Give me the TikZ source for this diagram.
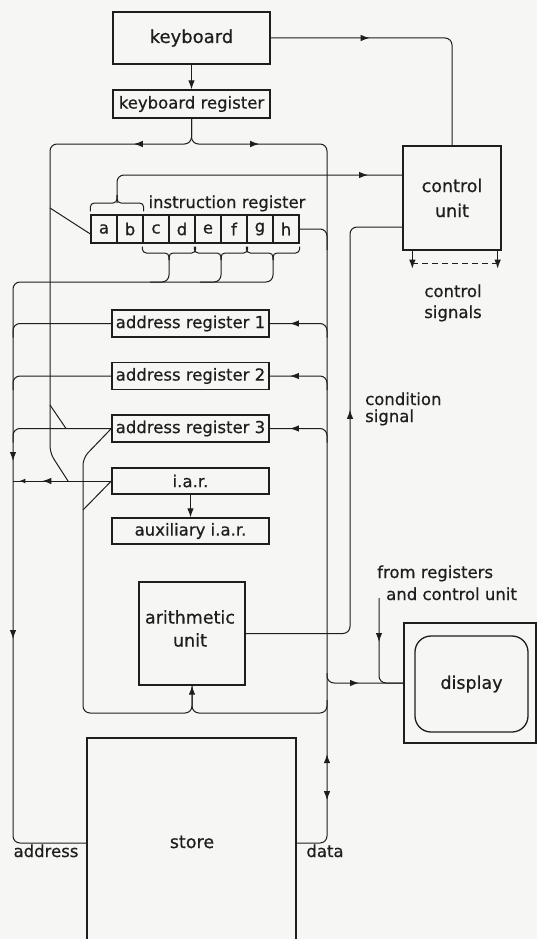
\documentclass[tikz,border=0pt]{standalone}
\usepackage{fontspec}
\setmainfont{DejaVu Sans}[FakeBold=0.6]
\usetikzlibrary{arrows.meta,decorations.markings,calc}
\definecolor{ink}{RGB}{30,30,30}
\definecolor{paper}{RGB}{246,246,244}
\tikzset{
  mytip/.tip={Latex[length=9pt,width=6.5pt]},
  smalltip/.tip={Latex[length=6pt,width=5pt]},
  ln/.style={draw=ink,line width=1pt},
  rc/.style={rounded corners=7pt},
  box/.style={draw=ink,line width=1.3pt,inner sep=0pt,font=\fontsize{16.5}{20}\selectfont,text=ink},
  cell/.style={box,minimum width=26pt,minimum height=28pt},
  lbl/.style={inner sep=0pt,font=\fontsize{16.5}{20}\selectfont,text=ink},
  arr/.style={decoration={markings,mark=at position #1 with {\arrow{mytip}}},postaction={decorate}},
}
\begin{document}
\begin{tikzpicture}[x=1pt,y=-1pt]
\fill[paper] (0,0) rectangle (537,939);
\useasboundingbox (0,0) rectangle (537,939);

% boxes
\node[box,minimum width=157pt,minimum height=52pt,font=\fontsize{18}{20}\selectfont] (kb) at (191.5,38) {keyboard};
\node[box,minimum width=157pt,minimum height=28pt] (kbr) at (191.5,104) {keyboard register};
\node[box,minimum width=98pt,minimum height=104pt,align=center,font=\fontsize{17.5}{25}\selectfont] (cu) at (452,198) {control\\unit};
\foreach \n/\t [count=\i from 0] in {ca/a,cb/b,cc/c,cd/d,ce/e,cf/f,cg/g,ch/h}
  \node[cell] (\n) at (104+26*\i,229) {\t};
\node[box,minimum width=157pt,minimum height=27pt] (ar1) at (190.5,323.5) {address register 1};
\node[box,minimum width=157pt,minimum height=27pt] (ar2) at (190.5,376) {address register 2};
\node[box,minimum width=157pt,minimum height=27pt] (ar3) at (190.5,428.5) {address register 3};
\node[box,minimum width=157pt,minimum height=26pt] (iar) at (190.5,481) {i.a.r.};
\node[box,minimum width=157pt,minimum height=26pt] (aux) at (190.5,531) {auxiliary i.a.r.};
\node[box,minimum width=106pt,minimum height=103pt] (au) at (192,633.5) {};
\node[lbl,align=center,font=\fontsize{17.5}{23}\selectfont] (autxt) at (190,628.5) {arithmetic\\unit};
\node[box,minimum width=209pt,minimum height=210pt] (store) at (191.5,843) {};
\node[lbl,font=\fontsize{17.5}{20}\selectfont] (storetxt) at (192,842) {store};
\node[box,minimum width=132pt,minimum height=120pt] (disp) at (470,683) {};
\node[box,minimum width=113pt,minimum height=96pt,rounded corners=16pt,font=\fontsize{17.5}{20}\selectfont] (screen) at (471.5,684) {display};

% labels
\node[lbl,anchor=base] (irlbl) at (227,208) {instruction register};
\node[lbl,anchor=base] (cs1) at (453,297) {control};
\node[lbl,anchor=base] (cs2) at (453,318) {signals};
\node[lbl,anchor=base west] (cond1) at (365,405) {condition};
\node[lbl,anchor=base west] (cond2) at (365,422) {signal};
\node[lbl,anchor=base west] (fr1) at (377,578) {from registers};
\node[lbl,anchor=base west] (fr2) at (386,600) {and control unit};
\node[lbl,anchor=base] (addrlbl) at (46,857) {address};
\node[lbl,anchor=base] (datalbl) at (325,857) {data};

% coordinates
\coordinate (abus) at (13,0);
\coordinate (dbus) at (327,0);
\coordinate (kbtap1) at (50,208);
\coordinate (kbtap2) at (50,405);
\coordinate (kbj2) at (66,428.5);
\coordinate (kbj3) at (68,481);
\coordinate (hjoin) at (327,250);
\coordinate (abcusp) at (117,203);
\coordinate (cuin1) at (403,175);
\coordinate (cuin2) at (403,227);
\coordinate (auj) at (327,700);
\coordinate (dispj) at (327,673);
\coordinate (fromreg) at (379,598);

% keyboard -> control unit
\draw[ln,rc,arr=99pt] (kb.east) -| (cu.north);
% keyboard -> keyboard register
\draw[ln,-mytip] (kb.south) -- (kbr.north);
% keyboard register left branch
\draw[ln,rc,arr=80pt] (kbr.south) |- (50,144) -- (50,453) -- (kbj3);
\draw[ln] (kbtap1) -- ([yshift=-5pt]ca.west);
\draw[ln] (kbtap2) -- (kbj2);
% keyboard register right branch = data bus
\draw[ln,rc,decoration={markings,
   mark=at position 90pt with {\arrow{mytip}},
   mark=at position 765pt with {\arrowreversed{mytip}},
   mark=at position 811pt with {\arrow{mytip}}},postaction={decorate}]
   (kbr.south) |- (327,144) |- (store.east);
% h -> data bus
\draw[ln,rc] (ch.east) -| (hjoin);
% op-code brace -> control unit
\draw[ln,rounded corners=4pt] ([yshift=3pt]ca.north west) |- (abcusp) -- (117,195);
\draw[ln,rounded corners=4pt] ([yshift=3pt]cb.north east) |- (abcusp) -- (117,195);
\draw[ln,rc,arr=276pt] (abcusp) |- (cuin1);
% address field braces
\foreach \l/\r/\m in {cc/cd/169,ce/cf/221,cg/ch/273}{
  \draw[ln,rounded corners=4pt] ([yshift=-3pt]\l.south west) |- (\m,253) -- (\m,260);
  \draw[ln,rounded corners=4pt] ([yshift=-3pt]\r.south east) |- (\m,253) -- (\m,260);
}
\draw[ln,rc] (169,255) |- (150,282);
\draw[ln,rc] (221,255) |- (200,282);
% address bus
\draw[ln,rc,decoration={markings,
   mark=at position 460pt with {\arrow{mytip}},
   mark=at position 638pt with {\arrow{mytip}}},postaction={decorate}]
   (273,255) |- (13,282) |- (store.west);
% address registers -> address bus, data bus -> address registers
\foreach \r in {ar1,ar2,ar3}{
  \draw[ln,rc] (\r.west) -| ([yshift=-14pt]\r.west -| abus);
  \draw[ln,rc,arr=48pt] ([yshift=-14pt]\r.east -| dbus) |- (\r.east);
}
% i.a.r. -> address bus
\draw[ln,decoration={markings,
   mark=at position 69pt with {\arrow{mytip}},
   mark=at position 92pt with {\arrow{smalltip}}},postaction={decorate}]
   (iar.west) -- (iar.west -| abus);
\draw[ln,-mytip] (iar.south) -- (aux.north);
% inputs of arithmetic unit
\draw[ln,rc,-mytip] (ar3.west) -- (83,458) |- (192,713) -- (au.south);
\draw[ln] (iar.west) -- (83,510);
\draw[ln,rc] (auj) |- (192,713) -- (au.south);
% condition signal
\draw[ln,rc,arr=325pt] (au.east) -| (350,400) |- (cuin2);
% control signals
\draw[ln,-mytip] ([xshift=10pt]cu.south west) -- ([xshift=10pt,yshift=-18pt]cu.south west);
\draw[ln,-mytip] ([xshift=-4pt]cu.south east) -- ([xshift=-4pt,yshift=-18pt]cu.south east);
\draw[ln,dashed,dash pattern=on 6pt off 4pt] ([xshift=10pt,yshift=-13pt]cu.south west) -- ([xshift=-4pt,yshift=-13pt]cu.south east);
% display inputs
\draw[ln,rc,arr=39pt] (dispj) |- (disp.west);
\draw[ln,rc,arr=44pt] (fromreg) |- (disp.west);
\end{tikzpicture}
\end{document}
